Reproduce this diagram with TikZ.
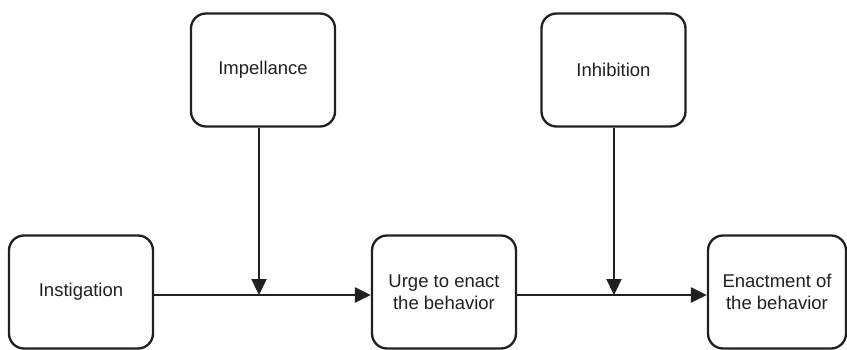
\documentclass[tikz,border=0pt]{standalone}
\usepackage{fontspec}
\setmainfont{Liberation Sans}
\usetikzlibrary{arrows.meta}
\definecolor{ink}{HTML}{231F20}
\begin{document}
\begin{tikzpicture}[x=1pt,y=-1pt,
  box/.style={draw=ink, line width=2.3pt, rounded corners=15pt, minimum width=144pt, minimum height=113pt,
    align=center, inner sep=0pt, font=\fontsize{18.5}{22}\selectfont, text=ink},
  arr/.style={draw=ink, line width=2.3pt, -{Triangle[length=16pt,width=15pt]}}]
\useasboundingbox (0,0) rectangle (847,350);
\node[box] (imp) at (263,70) {Impellance};
\node[box] (inh) at (613.5,70) {Inhibition};
\node[box] (inst) at (81,292) {Instigation};
\node[box] (urge) at (444,292) {Urge to enact\\the behavior};
\node[box, minimum width=138pt] (enact) at (777,292) {Enactment of\\the behavior};
\coordinate (j1) at (259,295);
\coordinate (j2) at (614,295);
\draw[arr] (imp.south -| j1) -- (j1);
\draw[arr] (inh.south -| j2) -- (j2);
\draw[arr] (inst.east |- j1) -- (urge.west |- j1);
\draw[arr] (urge.east |- j2) -- (enact.west |- j2);
\end{tikzpicture}
\end{document}
